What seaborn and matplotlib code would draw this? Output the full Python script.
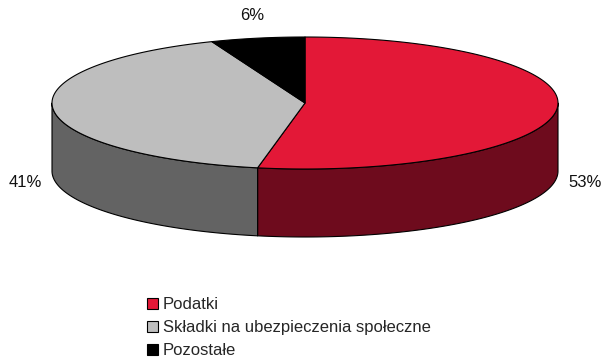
import numpy as np
import matplotlib
matplotlib.use("Agg")
import matplotlib.pyplot as plt
from matplotlib.patches import Polygon, Patch
import seaborn as sns

categories = ["Podatki", "Składki na ubezpieczenia społeczne", "Pozostałe"]
shares = [53, 41, 6]
pct_labels = ["53%", "41%", "6%"]
top_colors = ["#E31837", "#BEBEBE", "#000000"]
side_colors = ["#6E0B1D", "#636363", "#000000"]

sns.set_theme(style="white")
plt.rcParams["font.family"] = ["Liberation Sans", "DejaVu Sans"]

W, H = 604, 360
fig = plt.figure(figsize=(W / 100, H / 100), dpi=100)
ax = fig.add_axes([0, 0, 1, 1])
ax.set_xlim(0, W)
ax.set_ylim(H, 0)
ax.axis("off")

# pie geometry in pixel units (y grows downward)
cx, cy = 305, 103
ra, rb = 253, 66
depth = 68
edge_kw = dict(edgecolor="black", linewidth=0.8, joinstyle="round")


def rim(theta_deg):
    t = np.radians(theta_deg)
    return cx + ra * np.sin(t), cy - rb * np.cos(t)


fractions = np.array(shares, dtype=float) / sum(shares)
bounds = np.concatenate([[0], np.cumsum(fractions) * 360])

# front side walls (visible half: 90..270 degrees clockwise from top)
for i in range(len(shares)):
    lo, hi = max(bounds[i], 90), min(bounds[i + 1], 270)
    if hi <= lo:
        continue
    th = np.linspace(lo, hi, 120)
    xs, ys = rim(th)
    pts = np.column_stack([np.concatenate([xs, xs[::-1]]),
                           np.concatenate([ys, ys[::-1] + depth])])
    ax.add_patch(Polygon(pts, closed=True, facecolor=side_colors[i], **edge_kw))

# top faces
for i in range(len(shares)):
    th = np.linspace(bounds[i], bounds[i + 1], 200)
    xs, ys = rim(th)
    pts = np.column_stack([np.concatenate([[cx], xs]), np.concatenate([[cy], ys])])
    ax.add_patch(Polygon(pts, closed=True, facecolor=top_colors[i], **edge_kw))

# percentage labels outside each slice
for i in range(len(shares)):
    mid = (bounds[i] + bounds[i + 1]) / 2
    t = np.radians(mid)
    px, py = rim(mid)
    lx = px + 28 * np.sin(t)
    ly = py - 23 * np.cos(t)
    if 90 <= mid <= 270:
        ly += depth + 3
    ax.text(lx, ly, pct_labels[i], ha="center", va="center",
            fontsize=12, color="#111111")

handles = [Patch(facecolor=c, edgecolor="black", linewidth=0.8) for c in top_colors]
fig.legend(handles, categories, loc="upper left", bbox_to_anchor=(0.243, 0.174),
           frameon=False, fontsize=12, handlelength=0.68, handleheight=0.7,
           handletextpad=0.3, labelspacing=0.48, borderaxespad=0,
           borderpad=0)

fig.savefig("out.png", dpi=100)
